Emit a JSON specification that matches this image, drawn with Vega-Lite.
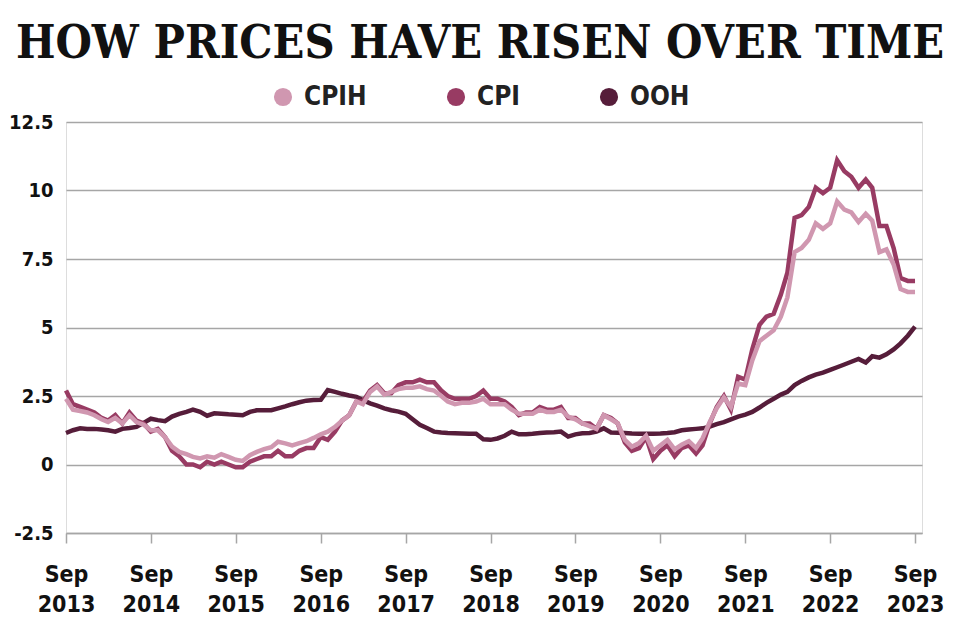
{
  "$schema": "https://vega.github.io/schema/vega-lite/v6.json",
  "width": 856,
  "height": 411,
  "autosize": {"type": "none"},
  "padding": {"left": 66, "top": 122, "right": 38, "bottom": 107},
  "background": "white",
  "title": {
    "text": "HOW PRICES HAVE RISEN OVER TIME",
    "font": "DejaVu Serif Condensed, DejaVu Serif, serif",
    "fontSize": 46.5,
    "fontWeight": 900,
    "color": "#111111",
    "anchor": "middle",
    "frame": "group",
    "dx": -14,
    "offset": -20,
    "baseline": "alphabetic"
  },
  "data": {
    "values": [
      {"date": "2013-09-01", "CPIH": 2.4, "CPI": 2.7, "OOH": 1.15},
      {"date": "2013-10-01", "CPIH": 2.0, "CPI": 2.2, "OOH": 1.25},
      {"date": "2013-11-01", "CPIH": 1.95, "CPI": 2.1, "OOH": 1.32},
      {"date": "2013-12-01", "CPIH": 1.9, "CPI": 2.0, "OOH": 1.3},
      {"date": "2014-01-01", "CPIH": 1.8, "CPI": 1.9, "OOH": 1.3},
      {"date": "2014-02-01", "CPIH": 1.65, "CPI": 1.7, "OOH": 1.28},
      {"date": "2014-03-01", "CPIH": 1.55, "CPI": 1.6, "OOH": 1.25},
      {"date": "2014-04-01", "CPIH": 1.7, "CPI": 1.8, "OOH": 1.2},
      {"date": "2014-05-01", "CPIH": 1.5, "CPI": 1.5, "OOH": 1.3},
      {"date": "2014-06-01", "CPIH": 1.8, "CPI": 1.9, "OOH": 1.33},
      {"date": "2014-07-01", "CPIH": 1.55, "CPI": 1.6, "OOH": 1.37},
      {"date": "2014-08-01", "CPIH": 1.45, "CPI": 1.5, "OOH": 1.52},
      {"date": "2014-09-01", "CPIH": 1.25, "CPI": 1.2, "OOH": 1.67},
      {"date": "2014-10-01", "CPIH": 1.25, "CPI": 1.3, "OOH": 1.62},
      {"date": "2014-11-01", "CPIH": 1.0, "CPI": 1.0, "OOH": 1.58},
      {"date": "2014-12-01", "CPIH": 0.65, "CPI": 0.5, "OOH": 1.75},
      {"date": "2015-01-01", "CPIH": 0.46, "CPI": 0.3, "OOH": 1.85},
      {"date": "2015-02-01", "CPIH": 0.38, "CPI": 0.0, "OOH": 1.92},
      {"date": "2015-03-01", "CPIH": 0.28, "CPI": 0.0, "OOH": 2.0},
      {"date": "2015-04-01", "CPIH": 0.22, "CPI": -0.1, "OOH": 1.92},
      {"date": "2015-05-01", "CPIH": 0.3, "CPI": 0.1, "OOH": 1.78},
      {"date": "2015-06-01", "CPIH": 0.25, "CPI": 0.0, "OOH": 1.87},
      {"date": "2015-07-01", "CPIH": 0.38, "CPI": 0.1, "OOH": 1.85},
      {"date": "2015-08-01", "CPIH": 0.28, "CPI": 0.0, "OOH": 1.83},
      {"date": "2015-09-01", "CPIH": 0.17, "CPI": -0.1, "OOH": 1.82},
      {"date": "2015-10-01", "CPIH": 0.13, "CPI": -0.1, "OOH": 1.8},
      {"date": "2015-11-01", "CPIH": 0.34, "CPI": 0.1, "OOH": 1.92},
      {"date": "2015-12-01", "CPIH": 0.46, "CPI": 0.2, "OOH": 1.98},
      {"date": "2016-01-01", "CPIH": 0.56, "CPI": 0.3, "OOH": 1.98},
      {"date": "2016-02-01", "CPIH": 0.63, "CPI": 0.3, "OOH": 1.98},
      {"date": "2016-03-01", "CPIH": 0.83, "CPI": 0.5, "OOH": 2.05},
      {"date": "2016-04-01", "CPIH": 0.77, "CPI": 0.3, "OOH": 2.12},
      {"date": "2016-05-01", "CPIH": 0.7, "CPI": 0.3, "OOH": 2.2},
      {"date": "2016-06-01", "CPIH": 0.78, "CPI": 0.5, "OOH": 2.27},
      {"date": "2016-07-01", "CPIH": 0.85, "CPI": 0.6, "OOH": 2.33},
      {"date": "2016-08-01", "CPIH": 0.97, "CPI": 0.6, "OOH": 2.35},
      {"date": "2016-09-01", "CPIH": 1.1, "CPI": 1.0, "OOH": 2.36},
      {"date": "2016-10-01", "CPIH": 1.2, "CPI": 0.9, "OOH": 2.72},
      {"date": "2016-11-01", "CPIH": 1.37, "CPI": 1.2, "OOH": 2.65},
      {"date": "2016-12-01", "CPIH": 1.6, "CPI": 1.6, "OOH": 2.58},
      {"date": "2017-01-01", "CPIH": 1.8, "CPI": 1.8, "OOH": 2.52},
      {"date": "2017-02-01", "CPIH": 2.3, "CPI": 2.3, "OOH": 2.47},
      {"date": "2017-03-01", "CPIH": 2.2, "CPI": 2.3, "OOH": 2.35},
      {"date": "2017-04-01", "CPIH": 2.65, "CPI": 2.7, "OOH": 2.23},
      {"date": "2017-05-01", "CPIH": 2.85, "CPI": 2.9, "OOH": 2.15},
      {"date": "2017-06-01", "CPIH": 2.55, "CPI": 2.6, "OOH": 2.05},
      {"date": "2017-07-01", "CPIH": 2.65, "CPI": 2.6, "OOH": 1.98},
      {"date": "2017-08-01", "CPIH": 2.75, "CPI": 2.9, "OOH": 1.93},
      {"date": "2017-09-01", "CPIH": 2.8, "CPI": 3.0, "OOH": 1.85},
      {"date": "2017-10-01", "CPIH": 2.8, "CPI": 3.0, "OOH": 1.65},
      {"date": "2017-11-01", "CPIH": 2.85, "CPI": 3.1, "OOH": 1.45},
      {"date": "2017-12-01", "CPIH": 2.75, "CPI": 3.0, "OOH": 1.33},
      {"date": "2018-01-01", "CPIH": 2.7, "CPI": 3.0, "OOH": 1.2},
      {"date": "2018-02-01", "CPIH": 2.5, "CPI": 2.7, "OOH": 1.17},
      {"date": "2018-03-01", "CPIH": 2.3, "CPI": 2.5, "OOH": 1.15},
      {"date": "2018-04-01", "CPIH": 2.2, "CPI": 2.4, "OOH": 1.14},
      {"date": "2018-05-01", "CPIH": 2.25, "CPI": 2.4, "OOH": 1.13},
      {"date": "2018-06-01", "CPIH": 2.25, "CPI": 2.4, "OOH": 1.12},
      {"date": "2018-07-01", "CPIH": 2.3, "CPI": 2.5, "OOH": 1.12},
      {"date": "2018-08-01", "CPIH": 2.4, "CPI": 2.7, "OOH": 0.92},
      {"date": "2018-09-01", "CPIH": 2.2, "CPI": 2.4, "OOH": 0.9},
      {"date": "2018-10-01", "CPIH": 2.2, "CPI": 2.4, "OOH": 0.95},
      {"date": "2018-11-01", "CPIH": 2.2, "CPI": 2.3, "OOH": 1.05},
      {"date": "2018-12-01", "CPIH": 2.0, "CPI": 2.1, "OOH": 1.2},
      {"date": "2019-01-01", "CPIH": 1.85, "CPI": 1.8, "OOH": 1.1},
      {"date": "2019-02-01", "CPIH": 1.85, "CPI": 1.9, "OOH": 1.1},
      {"date": "2019-03-01", "CPIH": 1.85, "CPI": 1.9, "OOH": 1.12},
      {"date": "2019-04-01", "CPIH": 2.0, "CPI": 2.1, "OOH": 1.15},
      {"date": "2019-05-01", "CPIH": 1.92, "CPI": 2.0, "OOH": 1.17},
      {"date": "2019-06-01", "CPIH": 1.92, "CPI": 2.0, "OOH": 1.18},
      {"date": "2019-07-01", "CPIH": 2.0, "CPI": 2.1, "OOH": 1.2},
      {"date": "2019-08-01", "CPIH": 1.75, "CPI": 1.7, "OOH": 1.02},
      {"date": "2019-09-01", "CPIH": 1.65, "CPI": 1.7, "OOH": 1.1},
      {"date": "2019-10-01", "CPIH": 1.5, "CPI": 1.5, "OOH": 1.14},
      {"date": "2019-11-01", "CPIH": 1.4, "CPI": 1.5, "OOH": 1.15},
      {"date": "2019-12-01", "CPIH": 1.3, "CPI": 1.3, "OOH": 1.2},
      {"date": "2020-01-01", "CPIH": 1.8, "CPI": 1.8, "OOH": 1.32},
      {"date": "2020-02-01", "CPIH": 1.65, "CPI": 1.7, "OOH": 1.17},
      {"date": "2020-03-01", "CPIH": 1.5, "CPI": 1.5, "OOH": 1.16},
      {"date": "2020-04-01", "CPIH": 0.9, "CPI": 0.8, "OOH": 1.15},
      {"date": "2020-05-01", "CPIH": 0.65, "CPI": 0.5, "OOH": 1.13},
      {"date": "2020-06-01", "CPIH": 0.78, "CPI": 0.6, "OOH": 1.12},
      {"date": "2020-07-01", "CPIH": 1.05, "CPI": 1.0, "OOH": 1.12},
      {"date": "2020-08-01", "CPIH": 0.5, "CPI": 0.2, "OOH": 1.12},
      {"date": "2020-09-01", "CPIH": 0.7, "CPI": 0.5, "OOH": 1.13},
      {"date": "2020-10-01", "CPIH": 0.9, "CPI": 0.7, "OOH": 1.15},
      {"date": "2020-11-01", "CPIH": 0.55, "CPI": 0.3, "OOH": 1.18},
      {"date": "2020-12-01", "CPIH": 0.72, "CPI": 0.6, "OOH": 1.25},
      {"date": "2021-01-01", "CPIH": 0.85, "CPI": 0.7, "OOH": 1.28},
      {"date": "2021-02-01", "CPIH": 0.6, "CPI": 0.4, "OOH": 1.3},
      {"date": "2021-03-01", "CPIH": 0.95, "CPI": 0.7, "OOH": 1.32},
      {"date": "2021-04-01", "CPIH": 1.55, "CPI": 1.5, "OOH": 1.38},
      {"date": "2021-05-01", "CPIH": 2.05, "CPI": 2.1, "OOH": 1.47},
      {"date": "2021-06-01", "CPIH": 2.45, "CPI": 2.5, "OOH": 1.55},
      {"date": "2021-07-01", "CPIH": 2.1, "CPI": 2.0, "OOH": 1.65},
      {"date": "2021-08-01", "CPIH": 2.95, "CPI": 3.2, "OOH": 1.75},
      {"date": "2021-09-01", "CPIH": 2.9, "CPI": 3.1, "OOH": 1.82},
      {"date": "2021-10-01", "CPIH": 3.8, "CPI": 4.2, "OOH": 1.92},
      {"date": "2021-11-01", "CPIH": 4.5, "CPI": 5.1, "OOH": 2.08},
      {"date": "2021-12-01", "CPIH": 4.7, "CPI": 5.4, "OOH": 2.25},
      {"date": "2022-01-01", "CPIH": 4.9, "CPI": 5.5, "OOH": 2.4},
      {"date": "2022-02-01", "CPIH": 5.4, "CPI": 6.2, "OOH": 2.55},
      {"date": "2022-03-01", "CPIH": 6.1, "CPI": 7.0, "OOH": 2.65},
      {"date": "2022-04-01", "CPIH": 7.75, "CPI": 9.0, "OOH": 2.9},
      {"date": "2022-05-01", "CPIH": 7.9, "CPI": 9.1, "OOH": 3.05},
      {"date": "2022-06-01", "CPIH": 8.2, "CPI": 9.4, "OOH": 3.18},
      {"date": "2022-07-01", "CPIH": 8.8, "CPI": 10.1, "OOH": 3.28},
      {"date": "2022-08-01", "CPIH": 8.6, "CPI": 9.9, "OOH": 3.35},
      {"date": "2022-09-01", "CPIH": 8.8, "CPI": 10.1, "OOH": 3.45},
      {"date": "2022-10-01", "CPIH": 9.6, "CPI": 11.1, "OOH": 3.55},
      {"date": "2022-11-01", "CPIH": 9.3, "CPI": 10.7, "OOH": 3.65},
      {"date": "2022-12-01", "CPIH": 9.2, "CPI": 10.5, "OOH": 3.75},
      {"date": "2023-01-01", "CPIH": 8.85, "CPI": 10.1, "OOH": 3.85},
      {"date": "2023-02-01", "CPIH": 9.15, "CPI": 10.4, "OOH": 3.72},
      {"date": "2023-03-01", "CPIH": 8.9, "CPI": 10.1, "OOH": 3.95},
      {"date": "2023-04-01", "CPIH": 7.75, "CPI": 8.7, "OOH": 3.9},
      {"date": "2023-05-01", "CPIH": 7.85, "CPI": 8.7, "OOH": 4.02},
      {"date": "2023-06-01", "CPIH": 7.3, "CPI": 7.9, "OOH": 4.2},
      {"date": "2023-07-01", "CPIH": 6.4, "CPI": 6.8, "OOH": 4.42},
      {"date": "2023-08-01", "CPIH": 6.3, "CPI": 6.7, "OOH": 4.7},
      {"date": "2023-09-01", "CPIH": 6.3, "CPI": 6.7, "OOH": 5.03}
    ]
  },
  "transform": [
    {"fold": ["OOH", "CPI", "CPIH"], "as": ["series", "value"]}
  ],
  "mark": {"type": "line", "strokeWidth": 4.5},
  "encoding": {
    "x": {
      "field": "date",
      "type": "temporal",
      "scale": {
        "type": "utc",
        "domain": [
          {"year": 2013, "month": 9, "date": 1, "utc": true},
          {"year": 2023, "month": 10, "date": 1, "utc": true}
        ]
      },
      "axis": {
        "title": null,
        "grid": false,
        "values": [
          {"year": 2013, "month": 9, "date": 1, "utc": true},
          {"year": 2014, "month": 9, "date": 1, "utc": true},
          {"year": 2015, "month": 9, "date": 1, "utc": true},
          {"year": 2016, "month": 9, "date": 1, "utc": true},
          {"year": 2017, "month": 9, "date": 1, "utc": true},
          {"year": 2018, "month": 9, "date": 1, "utc": true},
          {"year": 2019, "month": 9, "date": 1, "utc": true},
          {"year": 2020, "month": 9, "date": 1, "utc": true},
          {"year": 2021, "month": 9, "date": 1, "utc": true},
          {"year": 2022, "month": 9, "date": 1, "utc": true},
          {"year": 2023, "month": 9, "date": 1, "utc": true}
        ],
        "labelExpr": "[utcFormat(datum.value, '%b'), utcFormat(datum.value, '%Y')]",
        "domainColor": "#a6a6a6",
        "domainWidth": 1.5,
        "tickColor": "#a6a6a6",
        "tickWidth": 1.5,
        "tickSize": 10,
        "labelFont": "DejaVu Sans Condensed, DejaVu Sans, sans-serif",
        "labelFontSize": 23,
        "labelFontWeight": "bold",
        "labelColor": "#111111",
        "labelPadding": 20,
        "labelLineHeight": 30,
        "labelBaseline": "top",
        "labelFlush": false,
        "labelOverlap": false
      }
    },
    "y": {
      "field": "value",
      "type": "quantitative",
      "scale": {"domain": [-2.5, 12.5], "nice": false, "zero": false},
      "axis": {
        "title": null,
        "values": [-2.5, 0, 2.5, 5, 7.5, 10, 12.5],
        "labelExpr": "'' + datum.value",
        "domain": false,
        "ticks": false,
        "grid": true,
        "gridColor": "#a6a6a6",
        "gridWidth": 1.5,
        "labelFont": "DejaVu Sans Condensed, DejaVu Sans, sans-serif",
        "labelFontSize": 20,
        "labelFontWeight": "bold",
        "labelColor": "#111111",
        "labelPadding": 13
      }
    },
    "color": {
      "field": "series",
      "type": "nominal",
      "scale": {
        "domain": ["CPIH", "CPI", "OOH"],
        "range": ["#d097b0", "#983b63", "#561d3a"]
      },
      "legend": {
        "title": null,
        "orient": "none",
        "legendX": 204,
        "legendY": -38,
        "direction": "horizontal",
        "symbolType": "circle",
        "symbolSize": 330,
        "symbolStrokeWidth": 0,
        "labelFont": "DejaVu Sans Condensed, DejaVu Sans, sans-serif",
        "labelFontSize": 26,
        "labelFontWeight": "bold",
        "labelColor": "#222222",
        "labelOffset": 8,
        "columnPadding": 76,
        "encode": {
          "symbols": {
            "update": {
              "fill": {"scale": "color", "field": "value"},
              "strokeWidth": {"value": 0}
            }
          }
        }
      }
    }
  }
}
